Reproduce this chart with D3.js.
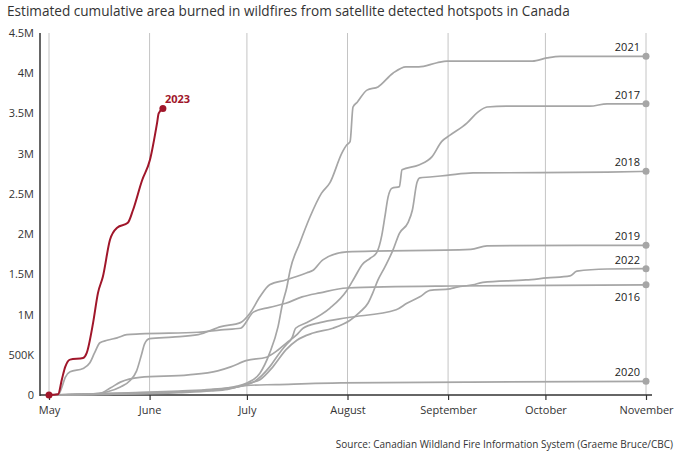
<!DOCTYPE html>
<html lang="en">
    <head>
        <meta charset="utf-8">
        <title>Wildfire area burned</title>
        <script src="https://cdn.jsdelivr.net/npm/d3@7/dist/d3.min.js" charset="utf-8"></script>
        <style type="text/css">
            body { margin: 0; background: #fff; }
            svg text { font-family: "Open Sans", "DejaVu Sans", sans-serif; }
        </style>
    </head>
    <body>
        <div id="chart"></div>
        <script>
            // Data: [days since May 1, area burned in millions of hectares]
            var s2023 = [[0,0],[2.8,0.01],[4,0.2],[5,0.35],[6.5,0.44],[10.5,0.46],[11.6,0.52],[13.6,0.9],[15.1,1.27],[16.6,1.47],[18.8,1.93],[21,2.08],[24.3,2.14],[25.9,2.3],[28.7,2.67],[31.1,2.92],[33.3,3.38],[33.8,3.5],[35.1,3.56]];
            var s2021 = [[0,0],[20,0.02],[40,0.05],[50,0.07],[55,0.09],[58,0.11],[61,0.15],[65,0.27],[68,0.52],[70.6,0.85],[72,1.14],[73.3,1.34],[74.3,1.55],[77.3,1.89],[80.4,2.21],[84,2.51],[86.6,2.64],[90.3,3.01],[91.8,3.11],[92.8,3.15],[93.7,3.58],[95,3.64],[98,3.79],[101.4,3.83],[106,4.0],[110,4.08],[114,4.08],[119.6,4.13],[122.7,4.15],[149,4.15],[153.5,4.19],[157.5,4.21],[184,4.21]];
            var s2017 = [[0,0],[20,0.01],[40,0.04],[50,0.06],[55,0.08],[60,0.12],[63,0.16],[68,0.35],[71,0.52],[73,0.62],[75,0.72],[76,0.83],[79.5,0.9],[86.6,1.08],[91.8,1.3],[94.3,1.47],[96.5,1.62],[99,1.7],[101,1.77],[102.6,1.99],[103.5,2.21],[104.5,2.46],[105.7,2.57],[108,2.59],[108.8,2.8],[114,2.86],[118,2.96],[121,3.15],[123.6,3.23],[128.8,3.38],[132,3.51],[135,3.58],[141,3.59],[166.7,3.59],[172,3.62],[184,3.62]];
            var s2018 = [[0,0],[20,0.02],[40,0.04],[50,0.06],[58,0.1],[62,0.15],[65,0.19],[69,0.35],[73,0.56],[76.4,0.68],[81.4,0.77],[87.5,0.83],[92.8,0.93],[95.8,1.03],[98.3,1.14],[99.8,1.27],[101.4,1.43],[103.5,1.59],[106,1.8],[108,2.01],[110.6,2.14],[112,2.3],[113.4,2.64],[114.3,2.7],[117.4,2.71],[122.6,2.73],[130.7,2.76],[172,2.77],[184,2.78]];
            var s2019 = [[0,0],[12,0.01],[18,0.04],[22,0.1],[25,0.18],[27,0.3],[28.5,0.5],[29.5,0.64],[31,0.7],[38,0.72],[46,0.75],[53,0.85],[59,0.9],[62,1.02],[65,1.22],[68,1.37],[73,1.43],[79.5,1.52],[81.4,1.55],[84.4,1.68],[91.8,1.78],[130,1.81],[135,1.855],[184,1.86]];
            var s2022 = [[0,0],[15,0.01],[19,0.09],[22,0.16],[28,0.22],[43,0.25],[52,0.3],[56,0.35],[61,0.43],[67,0.47],[70.6,0.56],[73.3,0.65],[76.4,0.75],[78.3,0.83],[83.5,0.9],[91.8,0.96],[107,1.06],[110.3,1.14],[114.3,1.22],[117.4,1.3],[123.6,1.32],[125.7,1.34],[130.7,1.37],[133.7,1.4],[147,1.43],[153.5,1.455],[160.6,1.48],[162.7,1.54],[172,1.566],[184,1.57]];
            var s2016 = [[0,0],[3,0.01],[4,0.1],[5,0.22],[6.5,0.29],[10.5,0.33],[12.6,0.4],[14,0.52],[15.7,0.65],[17.9,0.68],[21,0.71],[24,0.75],[28,0.76],[46,0.78],[53,0.81],[59,0.83],[63,1.03],[68,1.09],[73,1.14],[78,1.22],[83.5,1.27],[91.8,1.33],[124,1.355],[184,1.37]];
            var s2020 = [[0,0],[20,0.01],[40,0.03],[50,0.05],[55,0.07],[58,0.1],[61,0.12],[70,0.13],[90,0.15],[130,0.16],[184,0.17]];

            var grayYears = ["2021", "2017", "2018", "2019", "2022", "2016", "2020"];
            var graySeries = [s2021, s2017, s2018, s2019, s2022, s2016, s2020];
            var labelBelow = ["2016"];

            var monthLabels = ["May", "June", "July", "August", "September", "October", "November"];
            var yTicks = [0, 0.5, 1, 1.5, 2, 2.5, 3, 3.5, 4, 4.5];
            var yTickLabels = ["0", "500K", "1M", "1.5M", "2M", "2.5M", "3M", "3.5M", "4M", "4.5M"];

            var titleText = "Estimated cumulative area burned in wildfires from satellite detected hotspots in Canada";
            var sourceText = "Source: Canadian Wildland Fire Information System (Graeme Bruce/CBC)";

            var W = 680, H = 456;
            var svg = d3.select("#chart").append("svg")
                .attr("width", W)
                .attr("height", H);

            var start = new Date(2023, 4, 1);
            var end = new Date(2023, 10, 1);
            function toDate(d) {
                return new Date(start.getTime() + d * 86400000);
            }

            var x = d3.scaleTime().domain([start, end]).range([49, 646]);
            var y = d3.scaleLinear().domain([0, 4.5]).range([395, 33]);

            var red = "#a0162a", gray = "#a6a6a6";

            // title
            svg.append("text")
                .attr("x", 7)
                .attr("y", 16)
                .attr("font-size", "13.6px")
                .attr("fill", "#333")
                .text(titleText);

            // vertical month gridlines
            var months = d3.timeMonth.range(start, d3.timeDay.offset(end, 1));
            svg.append("g").selectAll("line")
                .data(months)
                .enter().append("line")
                .attr("x1", function(d) { return x(d); })
                .attr("x2", function(d) { return x(d); })
                .attr("y1", y(4.5))
                .attr("y2", y(0))
                .attr("stroke", "#c4c4c4")
                .attr("stroke-width", 1);

            // y axis
            var yAxis = d3.axisLeft(y)
                .tickValues(yTicks)
                .tickSize(0)
                .tickPadding(6)
                .tickFormat(function(d, i) { return yTickLabels[i]; });
            var gy = svg.append("g")
                .attr("transform", "translate(40,0)")
                .call(yAxis);
            gy.select(".domain").remove();
            gy.selectAll("text")
                .attr("font-size", "11px")
                .attr("fill", "#333")
                .style("font-family", "'Open Sans', sans-serif");
            svg.append("line")
                .attr("x1", 40).attr("x2", 40)
                .attr("y1", y(4.5)).attr("y2", y(0) + 1)
                .attr("stroke", "#333").attr("stroke-width", 1.5);

            // x axis
            var xAxis = d3.axisBottom(x)
                .tickValues(months)
                .tickSize(5)
                .tickPadding(6)
                .tickFormat(function(d, i) { return monthLabels[i]; });
            var gx = svg.append("g")
                .attr("transform", "translate(0,395)")
                .call(xAxis);
            gx.select(".domain").remove();
            gx.selectAll("line").attr("stroke", "#333").attr("stroke-width", 1.2);
            gx.selectAll("text")
                .attr("font-size", "11px")
                .attr("fill", "#333")
                .style("font-family", "'Open Sans', sans-serif");
            svg.append("line")
                .attr("x1", 40).attr("x2", 652)
                .attr("y1", 395).attr("y2", 395)
                .attr("stroke", "#333").attr("stroke-width", 1.5);

            var line = d3.line()
                .x(function(d) { return x(toDate(d[0])); })
                .y(function(d) { return y(d[1]); })
                .curve(d3.curveMonotoneX);

            // gray years
            graySeries.forEach(function(s, i) {
                svg.append("path")
                    .attr("d", line(s))
                    .attr("fill", "none")
                    .attr("stroke", gray)
                    .attr("stroke-width", 1.7);
            });
            graySeries.forEach(function(s, i) {
                var last = s[s.length - 1];
                var cx = x(toDate(last[0])), cy = y(last[1]);
                svg.append("circle")
                    .attr("cx", cx).attr("cy", cy).attr("r", 3.5)
                    .attr("fill", gray);
                var below = labelBelow.indexOf(grayYears[i]) >= 0;
                svg.append("text")
                    .attr("x", cx - 6)
                    .attr("y", below ? cy + 16 : cy - 5)
                    .attr("text-anchor", "end")
                    .attr("font-size", "11px")
                    .attr("fill", "#222")
                    .text(grayYears[i]);
            });

            // 2023
            svg.append("path")
                .attr("d", line(s2023))
                .attr("fill", "none")
                .attr("stroke", red)
                .attr("stroke-width", 2);
            var first = s2023[0], lastR = s2023[s2023.length - 1];
            svg.append("circle")
                .attr("cx", x(toDate(first[0]))).attr("cy", y(first[1])).attr("r", 3.5)
                .attr("fill", red);
            svg.append("circle")
                .attr("cx", x(toDate(lastR[0]))).attr("cy", y(lastR[1])).attr("r", 3.5)
                .attr("fill", red);
            svg.append("text")
                .attr("x", x(toDate(lastR[0])) + 2)
                .attr("y", y(lastR[1]) - 6)
                .attr("font-size", "11px")
                .attr("font-weight", "bold")
                .attr("fill", red)
                .text("2023");

            // source
            svg.append("text")
                .attr("x", 673)
                .attr("y", 448)
                .attr("text-anchor", "end")
                .attr("font-size", "10px")
                .attr("fill", "#333")
                .text(sourceText);
        </script>
    </body>
</html>
